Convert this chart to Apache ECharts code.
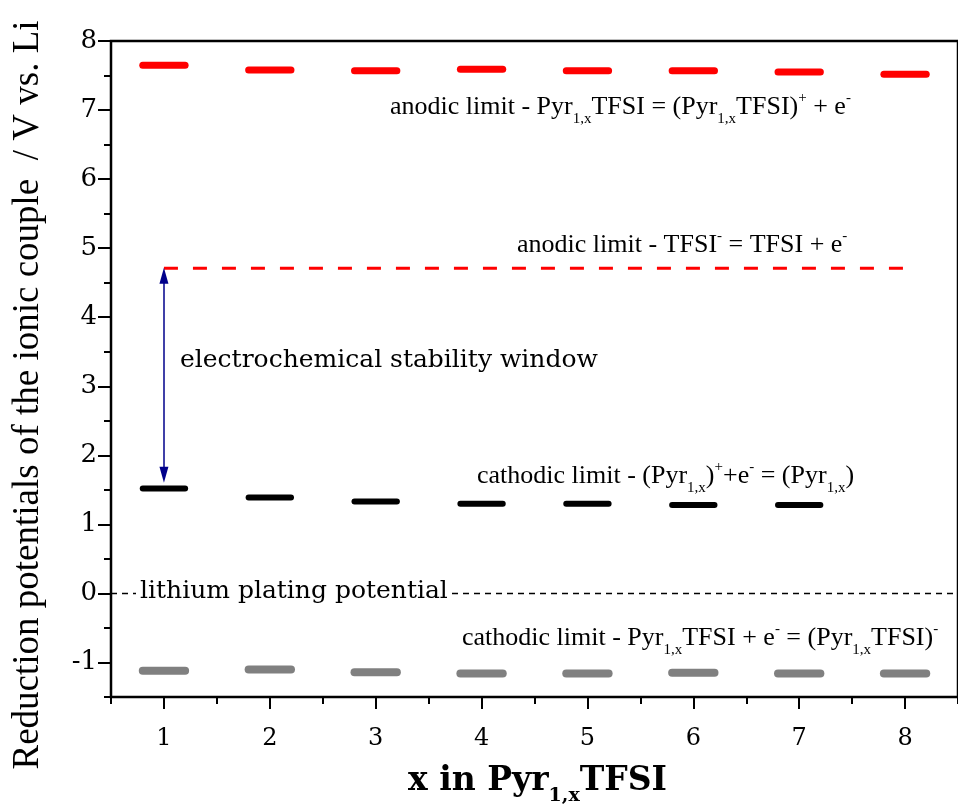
<!DOCTYPE html>
<html>
<head>
<meta charset="utf-8">
<script src="https://cdn.jsdelivr.net/npm/echarts@6/dist/echarts.min.js"></script>
<style>html,body{margin:0;padding:0;background:#fff}#c{width:958px;height:810px}</style>
</head>
<body>
<div id="c"></div>
<script>
// ---- data ----
var xValues = [1, 2, 3, 4, 5, 6, 7, 8];
var anodicPyr = [7.65, 7.58, 7.57, 7.59, 7.57, 7.57, 7.55, 7.52];
var cathodicCation = [1.52, 1.39, 1.33, 1.30, 1.30, 1.28, 1.28];
var cathodicPyr = [-1.12, -1.10, -1.14, -1.16, -1.16, -1.15, -1.16, -1.16];
var tfsiAnodic = [4.71, 4.71];
var tfsiX = [1, 8];
var liPlating = [0, 0];
var liX = [0.5, 8.5];
var arrowY = [4.60, 1.72];
var yTicks = [-1, 0, 1, 2, 3, 4, 5, 6, 7, 8];
var xTicks = [1, 2, 3, 4, 5, 6, 7, 8];

function pairs(xs, ys) { return ys.map(function (v, i) { return [xs[i], v]; }); }

function segSeries(vals, color, width) {
  return {
    type: 'custom',
    xAxisIndex: 0, yAxisIndex: 0,
    data: pairs(xValues, vals),
    renderItem: function (params, api) {
      var x = api.value(0), y = api.value(1);
      var p1 = api.coord([x - 0.2, y]);
      var p2 = api.coord([x + 0.2, y]);
      return {
        type: 'line',
        shape: { x1: p1[0], y1: p1[1], x2: p2[0], y2: p2[1] },
        style: { stroke: color, lineWidth: width, lineCap: 'round' }
      };
    },
    z: 5
  };
}

var serifT = 'Liberation Serif';
var serifP = 'DejaVu Serif';
var annFont = '26px "Liberation Serif"';
var subStyle = { fontSize: 15, fontFamily: serifT, verticalAlign: 'bottom', padding: [0, 0, 2, 0] };
var supStyle = { fontSize: 15, fontFamily: serifT, verticalAlign: 'top', padding: [6, 0, 0, 0] };

var chart = echarts.init(document.getElementById('c'));
var axisLineStyle = { color: '#000', width: 2 };

var option = {
  animation: false,
  backgroundColor: '#fff',
  grid: { left: 111, top: 41, bottom: 113, right: -12, show: true, borderColor: '#000', borderWidth: 2.5, backgroundColor: 'transparent' },
  xAxis: [
    {
      type: 'value', min: 0.5, max: 8.5, interval: 0.5, position: 'bottom',
      axisLine: { show: true, onZero: false, lineStyle: axisLineStyle },
      axisTick: { show: true, length: 12, inside: false, lineStyle: { width: 2, color: '#000' }, customValues: xTicks },
      axisLabel: { show: true, customValues: xTicks, fontFamily: serifP, fontSize: 24, color: '#000', margin: 30 },
      splitLine: { show: false }
    },
    {
      type: 'value', min: 0.5, max: 8.5, interval: 0.5, position: 'bottom',
      axisLine: { show: false, onZero: false },
      axisTick: { show: true, length: 7, lineStyle: { width: 2, color: '#000' } },
      axisLabel: { show: false },
      splitLine: { show: false }
    }
  ],
  yAxis: [
    {
      type: 'value', min: -1.5, max: 8, interval: 0.5, position: 'left',
      axisLine: { show: true, onZero: false, lineStyle: axisLineStyle },
      axisTick: { show: true, length: 13, lineStyle: { width: 2, color: '#000' }, customValues: yTicks },
      axisLabel: { show: true, customValues: yTicks, fontFamily: serifP, fontSize: 26, color: '#000', margin: 14 },
      splitLine: { show: false }
    },
    {
      type: 'value', min: -1.5, max: 8, interval: 0.5, position: 'left',
      axisLine: { show: false, onZero: false },
      axisTick: { show: true, length: 7, lineStyle: { width: 2, color: '#000' } },
      axisLabel: { show: false },
      splitLine: { show: false }
    }
  ],
  series: [
    segSeries(anodicPyr, '#ff0000', 7),
    segSeries(cathodicCation, '#000000', 6),
    segSeries(cathodicPyr, '#808080', 8),
    {
      type: 'line', data: pairs(tfsiX, tfsiAnodic), showSymbol: false, symbol: 'none',
      lineStyle: { color: '#ff0000', width: 3, type: [14, 15] }, z: 4
    },
    {
      type: 'line', data: pairs(liX, liPlating), showSymbol: false, symbol: 'none',
      lineStyle: { color: '#000', width: 1.5, type: [6, 5] }, z: 3,
      markLine: {
        silent: true, symbol: ['triangle', 'triangle'], symbolSize: [9, 16],
        label: { show: false },
        lineStyle: { color: '#00008b', width: 1.5, type: 'solid' },
        data: [[{ coord: [1, arrowY[0]] }, { coord: [1, arrowY[1]] }]]
      }
    }
  ],
  graphic: [
    {
      type: 'text', left: 390, top: 85, z: 100,
      style: {
        text: 'anodic limit - Pyr{sub|1,x}TFSI = (Pyr{sub|1,x}TFSI){sup|+} + e{sup|-}',
        font: annFont, lineHeight: 44, fill: '#000', rich: { sub: subStyle, sup: supStyle }
      }
    },
    {
      type: 'text', left: 517, top: 223, z: 100,
      style: {
        text: 'anodic limit - TFSI{sup|-} = TFSI + e{sup|-}',
        font: annFont, lineHeight: 44, fill: '#000', rich: { sup: supStyle }
      }
    },
    {
      type: 'text', left: 180, top: 348, z: 100,
      style: { text: 'electrochemical stability window', font: '25px "DejaVu Serif"', fill: '#000' }
    },
    {
      type: 'text', left: 477, top: 454, z: 100,
      style: {
        text: 'cathodic limit - (Pyr{sub|1,x}){sup|+}+e{sup|-} = (Pyr{sub|1,x})',
        font: annFont, lineHeight: 44, fill: '#000', rich: { sub: subStyle, sup: supStyle }
      }
    },
    {
      type: 'text', left: 136, top: 579, z: 100,
      style: { text: 'lithium plating potential', font: '25px "DejaVu Serif"', fill: '#000', backgroundColor: '#fff', padding: [0, 4, 0, 4] }
    },
    {
      type: 'text', left: 462, top: 616, z: 100,
      style: {
        text: 'cathodic limit - Pyr{sub|1,x}TFSI + e{sup|-} = (Pyr{sub|1,x}TFSI){sup|-}',
        font: annFont, lineHeight: 44, fill: '#000', rich: { sub: subStyle, sup: supStyle }
      }
    },
    {
      type: 'text', left: 408, top: 756, z: 100,
      style: {
        text: 'x in Pyr{sub|1,x}TFSI',
        font: 'bold 33px "DejaVu Serif"', lineHeight: 50, fill: '#000',
        rich: { sub: { fontSize: 19, fontWeight: 'bold', fontFamily: serifP, verticalAlign: 'bottom' } }
      }
    },
    {
      type: 'text', x: 28, y: 395, rotation: Math.PI / 2, z: 100,
      style: {
        text: 'Reduction potentials of the ionic couple  / V vs. Li',
        font: '37px "Liberation Serif"', fill: '#000', align: 'center', verticalAlign: 'middle'
      }
    }
  ]
};
chart.setOption(option);
</script>
</body>
</html>
